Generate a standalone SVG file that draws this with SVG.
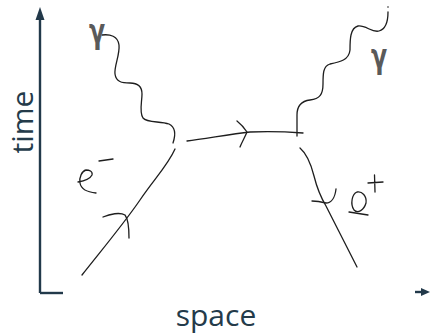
<svg xmlns="http://www.w3.org/2000/svg" width="433" height="334" viewBox="0 0 433 334">
<defs>
<linearGradient id="fade" x1="0" y1="0" x2="1" y2="0">
<stop offset="0" stop-color="#aab4bc"/>
<stop offset="1" stop-color="#ffffff"/>
</linearGradient>
<style>
.ink{fill:none;stroke:#1e1e1e;stroke-width:1.3;stroke-linecap:round;stroke-linejoin:round}
.axis{stroke:#22394a;stroke-width:2.4;fill:none}
.lbl{font-family:"Open Sans","Liberation Sans",sans-serif;font-size:30px;fill:#243b4a}
.gam{font-family:"DejaVu Sans",sans-serif;font-size:33px;font-weight:700;fill:#5a5a5a;text-anchor:middle}
</style>
</defs>
<rect width="433" height="334" fill="#ffffff"/>
<g id="axes">
<line class="axis" x1="40" y1="18" x2="40" y2="293"/>
<polygon points="40,7 35.5,20 44.5,20" fill="#22394a"/>
<line class="axis" x1="40" y1="293" x2="63" y2="293" stroke-width="2"/>
<line x1="63" y1="293.5" x2="225" y2="293.5" stroke="url(#fade)" stroke-width="1.2"/>
<line class="axis" x1="415" y1="292" x2="423" y2="292" stroke-width="2"/>
<polygon points="421,288 430,292 421,296" fill="#22394a"/>
<text class="lbl" x="33" y="122" text-anchor="middle" transform="rotate(-90 33 122)">time</text>
<text class="lbl" x="216" y="326" text-anchor="middle">space</text>
</g>
<g id="connectors">
<path id="photon-in" class="ink" d="M102,35 C110,34 118,36 119,45 C120,55 114,66 115,74 C116,82 122,83 130,83 C138,83 142,86 142,94 C142,102 139,112 143,118 C147,123 160,121 169,124 C175,127 176,134 173,143"/>
<path id="electron" class="ink" d="M82,275 C105,246 125,222 140,200 C155,178 168,165 175,149"/>
<path class="ink" d="M103,217 C110,214 120,212 125,215 C129,220 129,230 129,238"/>
<path id="virtual" class="ink" d="M187,141 C205,139 230,134 250,132 C270,131 290,132 303,133"/>
<path class="ink" d="M237,121 C242,125 245,129 247,132 C245,137 242,142 240,147"/>
<path id="photon-out" class="ink" d="M297,136 L297,115 C297,106 301,101 310,100 C320,99 323,94 323,84 C323,74 323,66 330,64 C340,62 349,60 350,50 C350,40 350,28 358,26 C366,25 372,33 379,31 C386,29 388,20 388,12"/>
<circle cx="388" cy="7" r="0.8" fill="#1e1e1e"/>
<path id="positron" class="ink" d="M300,148 C307,154 311,164 314,176 C317,188 320,196 326,206 L357,267"/>
<path class="ink" d="M312,201 C318,201 322,202 326,203 C331,203 335,198 336,189"/>
</g>
<g id="label-gamma-in"><text class="gam" transform="translate(97,43) scale(0.72,1)">γ</text></g>
<g id="label-gamma-out"><text class="gam" transform="translate(379,68) scale(0.72,1)">γ</text></g>
<g id="label-e-minus">
<path class="ink" d="M78,182 C84,181 90,179 92,175 C93,171 89,170 86,170 C82,171 79,177 80,183 C81,189 86,192 96,193"/>
<path class="ink" d="M99,161 L113,159"/>
</g>
<g id="label-e-plus">
<path class="ink" d="M357,192 C352,194 350,204 354,210 C358,214 364,210 366,203 C367,196 362,191 357,192 Z"/>
<path class="ink" d="M349,212 C355,213 362,214 368,215"/>
<path class="ink" d="M374.5,175 L375,192 M368,183 L383,182"/>
</g>
</svg>
